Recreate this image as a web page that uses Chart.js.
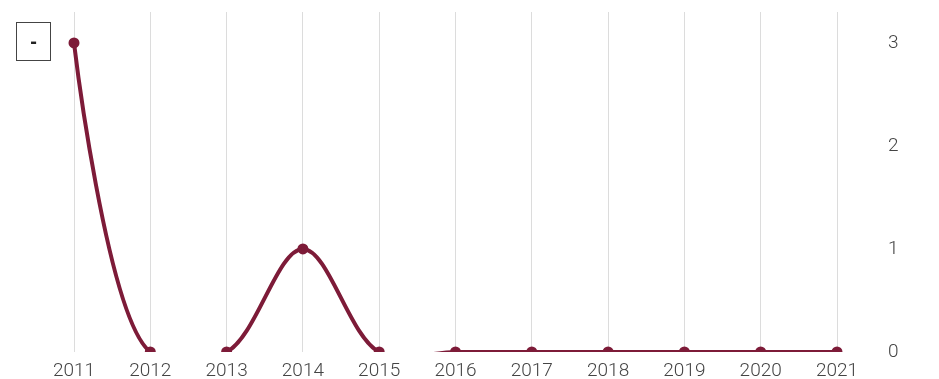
<!DOCTYPE html>
<html>
<head>
<meta charset="utf-8">
<script src="https://cdn.jsdelivr.net/npm/chart.js@4"></script>
<style>
  html, body { margin: 0; padding: 0; background: #fff; }
  .wrap { position: relative; width: 939px; height: 379px; }
  canvas { display: block; }
  .key {
    position: absolute; left: 16px; top: 22px; width: 33px; height: 37px;
    border: 1px solid #444; box-sizing: content-box;
    font: bold 20px 'Liberation Sans', sans-serif; color: #222;
    display: flex; align-items: center; justify-content: center;
  }
</style>
</head>
<body>
<div class="wrap">
  <canvas id="myChart" width="939" height="379"></canvas>
  <div class="key">-</div>
</div>
<script>
// yearly counts
const years = ['2011', '2012', '2013', '2014', '2015', '2016', '2017', '2018', '2019', '2020', '2021'];
const counts = [3, 0, 0, 1, 0, 0, 0, 0, 0, 0, 0];
const yTicks = [0, 1, 2, 3];

const lineColor = '#7d1b38';
const tickFont = { family: "Roboto, sans-serif", size: 19, weight: '300' };

// centripetal catmull-rom control points (alpha 0.5) on the pixel positions
const catmullRom = {
    id: 'catmullRom',
    beforeDatasetDraw(chart, args) {
        const meta = args.meta;
        const line = meta.dataset;
        if (!line) return;
        line.updateControlPoints(chart.chartArea, 'x');
        const pts = meta.data;
        const n = pts.length;
        const dist = (a, b) => Math.hypot(b.x - a.x, b.y - a.y);
        for (let i = 0; i < n - 1; i++) {
            const p0 = pts[i - 1], p1 = pts[i], p2 = pts[i + 1], p3 = pts[i + 2];
            const l12 = dist(p1, p2), l12a = Math.sqrt(l12);
            let c1x = p1.x, c1y = p1.y, c2x = p2.x, c2y = p2.y;
            if (p0) {
                const l01 = dist(p0, p1), l01a = Math.sqrt(l01);
                if (l01a > 1e-12) {
                    const a = 2 * l01 + 3 * l01a * l12a + l12;
                    const m = 3 * l01a * (l01a + l12a);
                    c1x = (p1.x * a - p0.x * l12 + p2.x * l01) / m;
                    c1y = (p1.y * a - p0.y * l12 + p2.y * l01) / m;
                }
            }
            if (p3) {
                const l23 = dist(p2, p3), l23a = Math.sqrt(l23);
                if (l23a > 1e-12) {
                    const b = 2 * l23 + 3 * l23a * l12a + l12;
                    const m = 3 * l23a * (l23a + l12a);
                    c2x = (p2.x * b + p1.x * l23 - p3.x * l12) / m;
                    c2y = (p2.y * b + p1.y * l23 - p3.y * l12) / m;
                }
            }
            p1.cp2x = c1x; p1.cp2y = c1y;
            p2.cp1x = c2x; p2.cp1y = c2y;
        }
        line._path = undefined;
    }
};

document.addEventListener('DOMContentLoaded', function () {
    const ctx = document.getElementById('myChart').getContext('2d');
    const config = {
        type: 'line',
        data: {
            labels: years,
            datasets: [{
                label: '-',
                data: counts,
                borderColor: lineColor,
                backgroundColor: lineColor,
                pointBackgroundColor: lineColor,
                pointBorderColor: lineColor,
                borderWidth: 4,
                pointRadius: 3.5,
                tension: 0.4,
                capBezierPoints: false,
                clip: { left: 10, right: 10, top: 10, bottom: 0 },
                fill: false
            }]
        },
        options: {
            responsive: false,
            animation: false,
            layout: { padding: { left: 74, top: 12, right: 0, bottom: 0 } },
            plugins: {
                legend: { display: false },
                tooltip: { enabled: false }
            },
            scales: {
                x: {
                    offset: false,
                    grid: { display: true, color: '#dcdcdc', lineWidth: 1, drawTicks: false },
                    border: { display: false },
                    ticks: { font: tickFont, color: '#444', padding: 8, maxRotation: 0, autoSkip: false },
                    afterFit: function (scale) { scale.height = 27; }
                },
                y: {
                    position: 'right',
                    min: 0,
                    max: 3.3,
                    // invisible tick marks push the labels away from the plot
                    grid: { display: true, drawOnChartArea: false, drawTicks: true, tickLength: 51, color: 'rgba(0,0,0,0)' },
                    border: { display: false },
                    ticks: { font: tickFont, color: '#444', padding: 0 },
                    afterBuildTicks: function (scale) {
                        scale.ticks = yTicks.map(v => ({ value: v }));
                    },
                    afterFit: function (scale) { scale.width = 102; }
                }
            }
        },
        plugins: [catmullRom]
    };
    new Chart(ctx, config);
});
</script>
</body>
</html>
